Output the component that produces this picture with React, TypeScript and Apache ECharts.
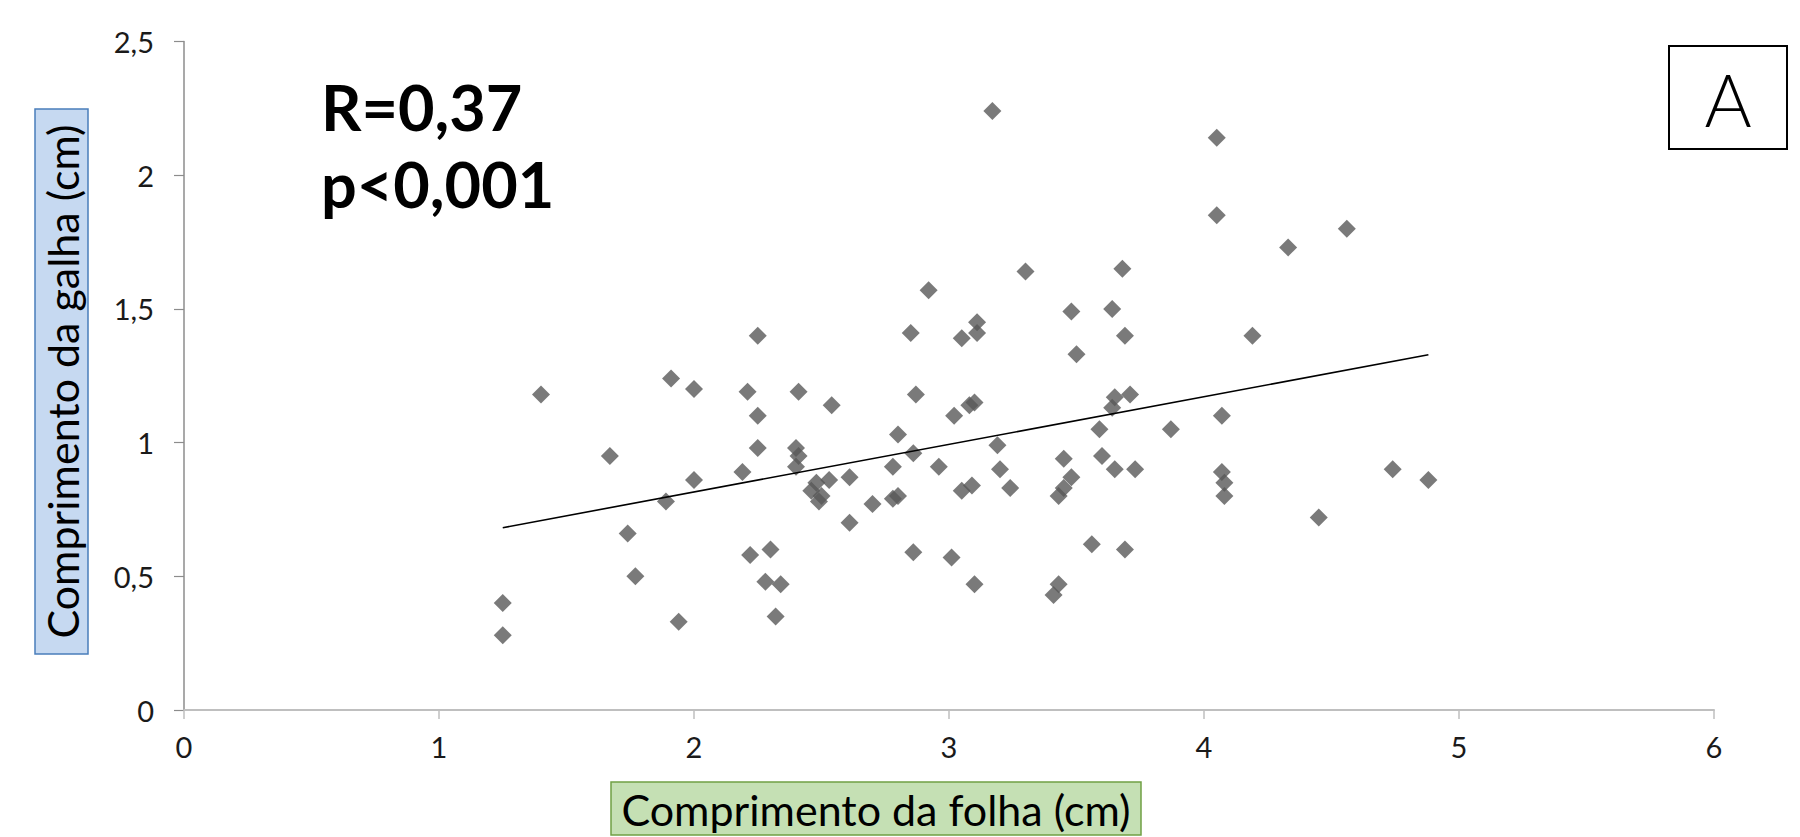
import React, { useEffect, useRef } from "react";
import * as echarts from "echarts";

// Comprimento da folha (cm) — x values
const folhaCm: number[] = [
  1.25, 1.25, 1.40, 1.67, 1.74, 1.77, 1.89, 1.91, 1.94, 2.00,
  2.00, 2.19, 2.21, 2.22, 2.25, 2.25, 2.25, 2.28, 2.30, 2.32,
  2.34, 2.41, 2.40, 2.41, 2.40, 2.48, 2.46, 2.50, 2.49, 2.53,
  2.54, 2.61, 2.61, 2.70, 2.78, 2.78, 2.80, 2.80, 2.85, 2.86,
  2.87, 2.86, 2.92, 2.96, 3.02, 3.01, 3.05, 3.05, 3.09, 3.08,
  3.10, 3.10, 3.11, 3.11, 3.17, 3.19, 3.20, 3.24, 3.30, 3.41,
  3.43, 3.43, 3.45, 3.45, 3.48, 3.48, 3.50, 3.56, 3.59, 3.60,
  3.64, 3.64, 3.65, 3.65, 3.68, 3.69, 3.69, 3.71, 3.73, 3.87,
  4.05, 4.05, 4.07, 4.07, 4.08, 4.08, 4.19, 4.33, 4.45, 4.56,
  4.74, 4.88,
];

// Comprimento da galha (cm) — y values
const galhaCm: number[] = [
  0.40, 0.28, 1.18, 0.95, 0.66, 0.50, 0.78, 1.24, 0.33, 1.20,
  0.86, 0.89, 1.19, 0.58, 1.40, 1.10, 0.98, 0.48, 0.60, 0.35,
  0.47, 1.19, 0.98, 0.95, 0.91, 0.85, 0.82, 0.80, 0.78, 0.86,
  1.14, 0.87, 0.70, 0.77, 0.91, 0.79, 1.03, 0.80, 1.41, 0.96,
  1.18, 0.59, 1.57, 0.91, 1.10, 0.57, 0.82, 1.39, 0.84, 1.14,
  1.15, 0.47, 1.45, 1.41, 2.24, 0.99, 0.90, 0.83, 1.64, 0.43,
  0.47, 0.80, 0.83, 0.94, 0.87, 1.49, 1.33, 0.62, 1.05, 0.95,
  1.50, 1.13, 1.17, 0.90, 1.65, 1.40, 0.60, 1.18, 0.90, 1.05,
  2.14, 1.85, 1.10, 0.89, 0.85, 0.80, 1.40, 1.73, 0.72, 1.80,
  0.90, 0.86,
];

const xTicks = { min: 0, max: 6, interval: 1 };
const yTicks = { min: 0, max: 2.5, interval: 0.5 };

const statLines: string[] = ["R=0,37", "p<0,001"];
const xTitle = "Comprimento da folha (cm)";
const yTitle = "Comprimento da galha (cm)";
const panelLetter = "A";

const FONT = "Lato, 'Open Sans', 'DejaVu Sans', sans-serif";

function linearFit(xs: number[], ys: number[]) {
  const n = xs.length;
  let sx = 0, sy = 0, sxx = 0, sxy = 0;
  for (let i = 0; i < n; i++) {
    sx += xs[i];
    sy += ys[i];
    sxx += xs[i] * xs[i];
    sxy += xs[i] * ys[i];
  }
  const slope = (n * sxy - sx * sy) / (n * sxx - sx * sx);
  const intercept = (sy - slope * sx) / n;
  return { slope, intercept };
}

export default function App() {
  const ref = useRef<HTMLDivElement>(null);

  useEffect(() => {
    if (!ref.current) return;
    const chart = echarts.init(ref.current, undefined, { renderer: "svg" });

    const points = folhaCm.map((x, i) => [x, galhaCm[i]]);
    const { slope, intercept } = linearFit(folhaCm, galhaCm);
    const xMin = Math.min(...folhaCm);
    const xMax = Math.max(...folhaCm);
    const trend = [
      [xMin, intercept + slope * xMin],
      [xMax, intercept + slope * xMax],
    ];

    const option: any = {
      animation: false,
      backgroundColor: "#ffffff",
      grid: { left: 184, right: 86, top: 41.5, bottom: 127, containLabel: false },
      xAxis: {
        type: "value",
        min: xTicks.min,
        max: xTicks.max,
        interval: xTicks.interval,
        axisLine: { show: true, onZero: false, lineStyle: { color: "#bfbfbf", width: 2 } },
        axisTick: { show: true, length: 9, lineStyle: { color: "#bfbfbf", width: 1.5 } },
        splitLine: { show: false },
        axisLabel: { fontFamily: FONT, fontSize: 29, color: "#1a1a1a", margin: 22 },
      },
      yAxis: {
        type: "value",
        min: yTicks.min,
        max: yTicks.max,
        interval: yTicks.interval,
        axisLine: { show: true, lineStyle: { color: "#8c8c8c", width: 1.5 } },
        axisTick: { show: true, length: 10, lineStyle: { color: "#8c8c8c", width: 1.2 } },
        splitLine: { show: false },
        axisLabel: {
          fontFamily: FONT,
          fontSize: 29,
          color: "#1a1a1a",
          margin: 30,
          formatter: (v: number) => String(v).replace(".", ","),
        },
      },
      series: [
        {
          type: "scatter",
          data: points,
          symbol: "diamond",
          symbolSize: 18,
          itemStyle: { color: "#595959" },
        },
        {
          type: "line",
          data: trend,
          symbol: "none",
          showSymbol: false,
          lineStyle: { color: "#000000", width: 1.6 },
        },
      ],
      graphic: [
        {
          type: "rect",
          shape: { x: 35, y: 109, width: 53, height: 545 },
          style: { fill: "#c6d9f1", stroke: "#4a7ebb", lineWidth: 1.5 },
        },
        {
          type: "text",
          x: 62,
          y: 381.5,
          rotation: Math.PI / 2,
          style: {
            text: yTitle,
            fontFamily: FONT,
            fontSize: 43,
            fill: "#000000",
            align: "center",
            verticalAlign: "middle",
          },
        },
        {
          type: "rect",
          shape: { x: 611, y: 782, width: 530, height: 53 },
          style: { fill: "#c5e0b4", stroke: "#70a044", lineWidth: 1.5 },
        },
        {
          type: "text",
          x: 876,
          y: 809,
          style: {
            text: xTitle,
            fontFamily: FONT,
            fontSize: 43,
            fill: "#000000",
            align: "center",
            verticalAlign: "middle",
          },
        },
        {
          type: "rect",
          shape: { x: 1669, y: 46, width: 118, height: 103 },
          style: { fill: "#ffffff", stroke: "#000000", lineWidth: 2 },
        },
        {
          type: "text",
          x: 1728,
          y: 99,
          style: {
            text: panelLetter,
            fontFamily: FONT,
            fontSize: 72,
            fontWeight: 300,
            fill: "#000000",
            align: "center",
            verticalAlign: "middle",
          },
        },
        {
          type: "text",
          x: 321,
          y: 106,
          style: {
            text: statLines[0],
            fontFamily: FONT,
            fontSize: 63,
            fontWeight: "bold",
            fill: "#000000",
            align: "left",
            verticalAlign: "middle",
          },
        },
        {
          type: "text",
          x: 321,
          y: 183,
          style: {
            text: statLines[1],
            fontFamily: FONT,
            fontSize: 63,
            fontWeight: "bold",
            fill: "#000000",
            align: "left",
            verticalAlign: "middle",
          },
        },
      ],
    };

    chart.setOption(option);
    return () => chart.dispose();
  }, []);

  return (
    <div
      ref={ref}
      style={{ position: "absolute", left: 0, top: 0, width: 1800, height: 837 }}
    />
  );
}
